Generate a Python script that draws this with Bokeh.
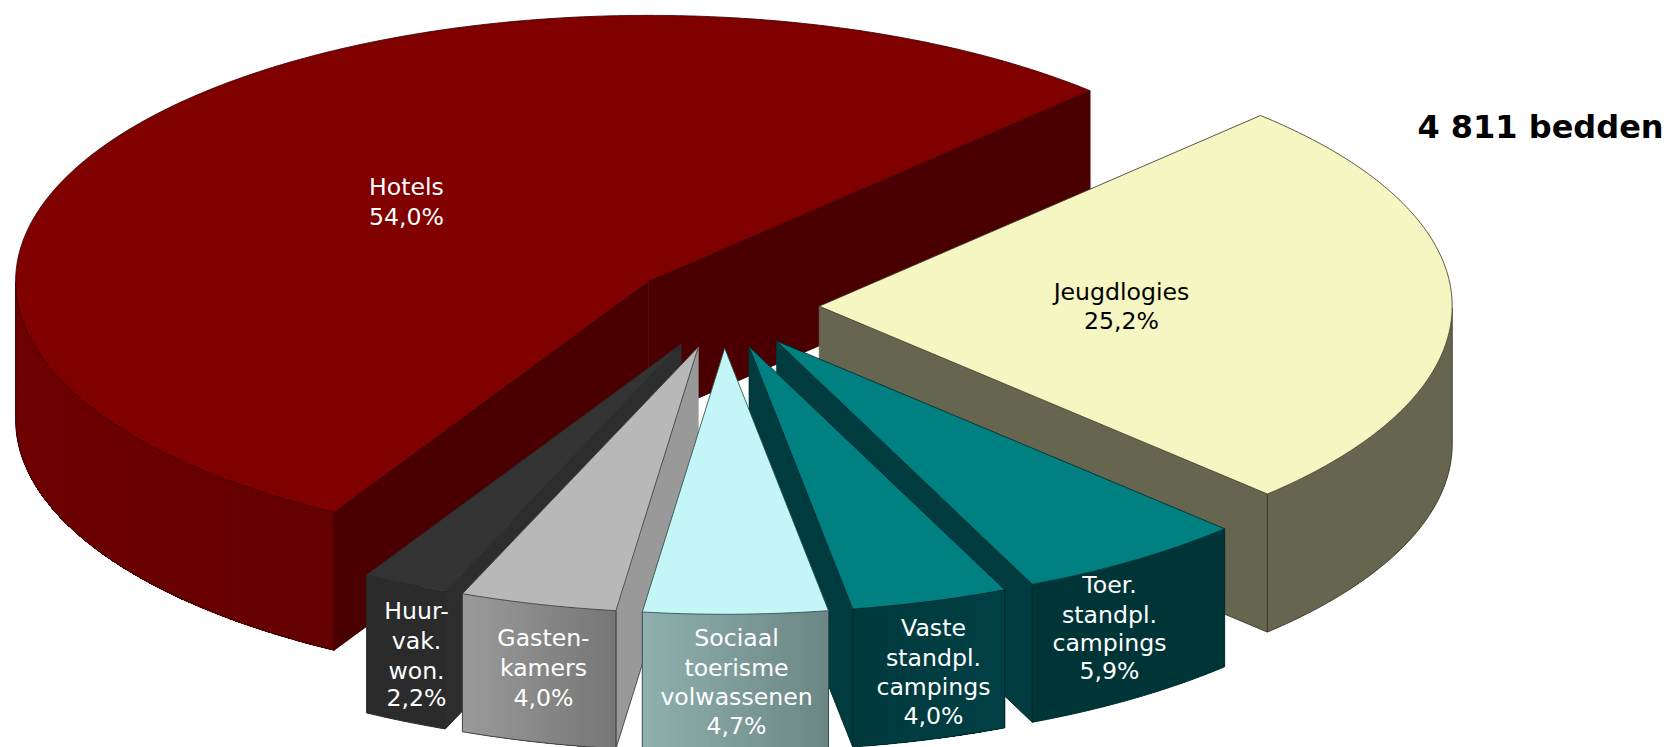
import math
from bokeh.plotting import figure
from bokeh.models import Range1d, ColumnDataSource
from bokeh.core.properties import value
from bokeh.embed import file_html
from bokeh.resources import INLINE

# ---- data -----------------------------------------------------------
categories = ["Jeugdlogies", "Toer. standpl. campings", "Vaste standpl. campings",
              "Sociaal toerisme volwassenen", "Gastenkamers", "Huurvak. won.", "Hotels"]
shares = [25.2, 5.9, 4.0, 4.7, 4.0, 2.2, 54.0]
percent_labels = ["25,2%", "5,9%", "4,0%", "4,7%", "4,0%", "2,2%", "54,0%"]
label_lines = [["Jeugdlogies"], ["Toer.", "standpl.", "campings"], ["Vaste", "standpl.", "campings"],
               ["Sociaal", "toerisme", "volwassenen"], ["Gasten-", "kamers"], ["Huur-", "vak.", "won."], ["Hotels"]]
total_label = "4 811 bedden"

# ---- style / layout ---------------------------------------------------
top_col = ["#f5f6c2", "#008080", "#008080", "#c4f6f7", "#b8b8b8", "#333333", "#800000"]
wall_from = ["#666650", "#003538", "#00393d", "#8fb0ae", "#9a9a9a", "#2b2b2b", "#6e0000"]
wall_to = ["#666650", "#003538", "#004045", "#6a8584", "#757575", "#2b2b2b", "#640000"]
side_col = ["#666650", "#003b3f", "#003b3f", "#6a8584", "#999999", "#2d2d2d", "#4a0000"]
edge_col = ["#3c3c28", "#002a2c", "#002a2c", "#2f4f4f", "#404040", "#2b2b2b", "#3c0000"]
explode = [0.148, 0.157, 0.157, 0.157, 0.157, 0.157, 0.157]
nudge_x = [0, -5.3, -5, -2.5, -2, -1, 2.5]
text_col = ["#000000", "#ffffff", "#ffffff", "#ffffff", "#ffffff", "#ffffff", "#ffffff"]
label_x = [1121, 1109, 933, 736, 543, 416, 406]
label_y = [[291, 320], [584.5, 614.5, 642.5, 670.5], [627, 657, 686, 715], [637, 667, 696, 725],
           [637, 667, 697], [610, 640, 670, 697], [186, 216]]
draw_order = [6, 0, 1, 2, 5, 4, 3]
CX, CY, RX, RY, DEPTH = 725.0, 306.0, 633.0, 266.0, 138.0
START_ANGLE = 45.8

p = figure(width=1668, height=747, output_backend="svg", toolbar_location=None,
           x_range=Range1d(0, 1668), y_range=Range1d(747, 0), min_border=0,
           background_fill_color="white", border_fill_color="white", outline_line_color=None)
p.axis.visible = False
p.grid.visible = False


def mix(a, b, f):
    ca = [int(a[i:i + 2], 16) for i in (1, 3, 5)]
    cb = [int(b[i:i + 2], 16) for i in (1, 3, 5)]
    return "#%02x%02x%02x" % tuple(round(u + (v - u) * f) for u, v in zip(ca, cb))


# angles of the slices, running clockwise from the start angle
angles = []
a = START_ANGLE
for s in shares:
    angles.append((a, a - s * 3.6))
    a -= s * 3.6

for i in draw_order:
    t0, t1 = angles[i]
    mid = math.radians((t0 + t1) / 2)
    ax = CX + explode[i] * RX * math.cos(mid) + nudge_x[i]
    ay = CY - explode[i] * RY * math.sin(mid)

    def pt(deg):
        r = math.radians(deg)
        return ax + RX * math.cos(r), ay - RY * math.sin(r)

    n = max(int((t0 - t1) * 2), 2)
    arc = [t0 + (t1 - t0) * k / n for k in range(n + 1)]

    # radial faces
    for t, normal in ((t0, t0 + 90), (t1, t1 - 90)):
        if math.sin(math.radians(normal)) < 0:
            x, y = pt(t)
            p.patch([ax, x, x, ax], [ay, y, y + DEPTH, ay + DEPTH], fill_color=side_col[i],
                    line_color=side_col[i], line_width=0.6)
            p.line([ax, x, x], [ay + DEPTH, y + DEPTH, y], line_color=edge_col[i], line_width=1, line_alpha=0.8)

    # outer wall with its horizontal gradient: bands run left to right, each
    # one reaching to the end of the wall so that no seam shows between them
    vis = [t for t in arc if math.sin(math.radians(t)) <= 0]
    if len(vis) > 1:
        vis_lr = sorted(vis, key=lambda t: pt(t)[0])
        lo, hi = pt(vis_lr[0])[0], pt(vis_lr[-1])[0]
        step = 1 if wall_from[i] != wall_to[i] else len(vis_lr)
        for k in range(0, len(vis_lr) - 1, step):
            part = vis_lr[k:]
            c = mix(wall_from[i], wall_to[i], (pt(part[0])[0] - lo) / max(hi - lo, 1))
            xx = [pt(t)[0] for t in part]
            yy = [pt(t)[1] for t in part]
            p.patch(xx + xx[::-1], yy + [v + DEPTH for v in yy[::-1]], fill_color=c, line_color=None)
        p.line([pt(t)[0] for t in vis], [pt(t)[1] + DEPTH for t in vis], line_color=edge_col[i], line_width=1)
        for t in (vis[0], vis[-1]):
            x, y = pt(t)
            p.line([x, x], [y, y + DEPTH], line_color=edge_col[i], line_width=1)

    # top face
    px = [ax] + [pt(t)[0] for t in arc]
    py = [ay] + [pt(t)[1] for t in arc]
    p.patch(px, py, fill_color=top_col[i], line_color=edge_col[i], line_width=1, line_alpha=0.85)

# labels
tx, ty, tt, tc = [], [], [], []
for i in range(len(categories)):
    lines = label_lines[i] + [percent_labels[i]]
    for line, yy in zip(lines, label_y[i]):
        tx.append(label_x[i])
        ty.append(yy)
        tt.append(line)
        tc.append(text_col[i])
src = ColumnDataSource(dict(x=tx, y=ty, text=tt, color=tc))
p.text("x", "y", text="text", source=src, text_color="color", text_align="center", text_baseline="middle",
       text_font=value("DejaVu Sans"), text_font_size="23.6px")

p.text([1540], [126], text=[total_label], text_color="#000000", text_align="center", text_baseline="middle",
       text_font=value("DejaVu Sans"), text_font_style="bold", text_font_size="32px")

open("out.html", "w").write(file_html(p, INLINE))
